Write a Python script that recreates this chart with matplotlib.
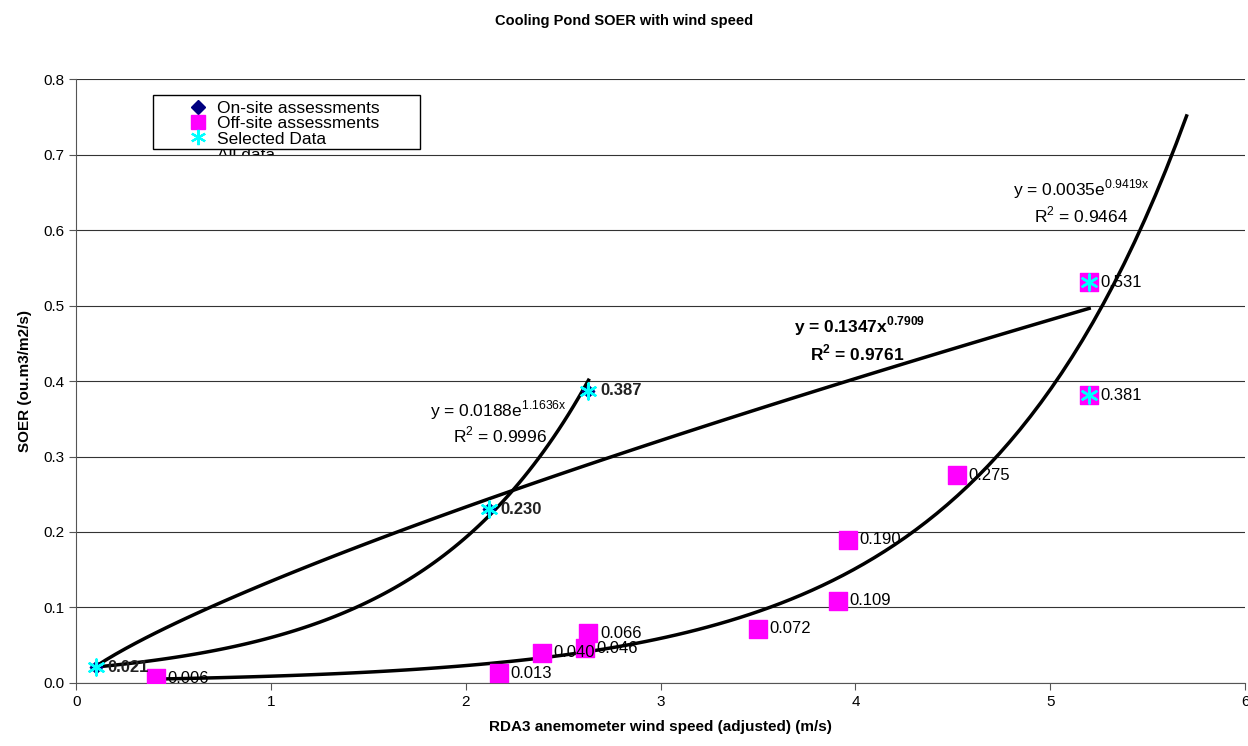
import numpy as np
import matplotlib
matplotlib.use('Agg')
import matplotlib.pyplot as plt
from matplotlib.lines import Line2D
from matplotlib.patches import Rectangle

plt.rcParams['font.family'] = ['Liberation Sans', 'DejaVu Sans']
plt.rcParams['mathtext.fontset'] = 'custom'
plt.rcParams['mathtext.rm'] = 'Liberation Sans'
plt.rcParams['mathtext.bf'] = 'Liberation Sans:bold'

# on-site assessments
on_x = [0.10, 2.12, 2.63]
on_y = [0.021, 0.230, 0.387]

# off-site assessments
off_x = [0.41, 2.17, 2.39, 2.61, 2.63, 3.50, 3.91, 3.96, 4.52, 5.20, 5.20]
off_y = [0.006, 0.013, 0.040, 0.046, 0.066, 0.072, 0.109, 0.190, 0.275, 0.381, 0.531]

# selected data
sel_x = [0.10, 2.12, 2.63, 5.20, 5.20]
sel_y = [0.021, 0.230, 0.387, 0.381, 0.531]

fig = plt.figure(figsize=(12.48, 7.46), dpi=100)
ax = fig.add_axes([0.061, 0.0845, 0.9366, 0.8095])

ax.set_xlim(0, 6)
ax.set_ylim(0, 0.8)
ax.set_yticks(np.arange(0, 0.81, 0.1))
ax.set_yticklabels(['%.1f' % v for v in np.arange(0, 0.81, 0.1)], fontsize=11)
ax.set_xticks(range(7))
ax.set_xticklabels([str(i) for i in range(7)], fontsize=11)
ax.yaxis.grid(True, color='#333333', linewidth=0.8)
ax.set_axisbelow(True)
for s in ['top', 'right']:
    ax.spines[s].set_visible(False)
ax.spines['left'].set_color('#555555')
ax.spines['bottom'].set_color('#555555')
ax.tick_params(direction='out', length=5, color='#555555')

# trendlines
x1 = np.linspace(0.10, 2.63, 100)
ax.plot(x1, 0.0188 * np.exp(1.1636 * x1), color='black', lw=2.5, zorder=2)
x2 = np.linspace(0.10, 5.20, 100)
ax.plot(x2, 0.1347 * x2 ** 0.7909, color='black', lw=2.5, zorder=2)
x3 = np.linspace(0.41, 5.70, 100)
ax.plot(x3, 0.0035 * np.exp(0.9419 * x3), color='black', lw=2.5, zorder=2)

ax.scatter(off_x, off_y, marker='s', s=150, color='magenta', zorder=3)
ax.scatter(on_x, on_y, marker='D', s=40, color='#000080', zorder=4)
ax.scatter(sel_x, sel_y, marker=(6, 2, 0), s=130, color='cyan', linewidths=1.8, zorder=5)

for x, y in zip(off_x, off_y):
    ax.text(x + 0.06, y, '%.3f' % y, fontsize=12, va='center', zorder=6)
for x, y in zip(on_x, on_y):
    ax.text(x + 0.06, y, '%.3f' % y, fontsize=12, va='center', fontweight='bold', color='#222222', zorder=6)

ax.text(2.52, 0.362, r'y = 0.0188e$^{\mathrm{1.1636x}}$', fontsize=12.5, ha='right', va='center')
ax.text(2.42, 0.329, r'R$^{2}$ = 0.9996', fontsize=12.5, ha='right', va='center')
ax.text(4.02, 0.472, r'y = 0.1347x$^{\mathbf{0.7909}}$', fontsize=12.5, ha='center', va='center', fontweight='bold')
ax.text(4.01, 0.437, r'R$^{\mathbf{2}}$ = 0.9761', fontsize=12.5, ha='center', va='center', fontweight='bold')
ax.text(5.16, 0.654, r'y = 0.0035e$^{\mathrm{0.9419x}}$', fontsize=12.5, ha='center', va='center')
ax.text(5.16, 0.620, r'R$^{2}$ = 0.9464', fontsize=12.5, ha='center', va='center')

# legend (box drawn separately, last entry cut off as in the original)
handles = [
    Line2D([], [], ls='none', marker='D', ms=7, color='#000080'),
    Line2D([], [], ls='none', marker='s', ms=10, color='magenta'),
    Line2D([], [], ls='none', marker=(6, 2, 0), ms=11, mew=1.6, color='cyan'),
]
labels = ['On-site assessments', 'Off-site assessments', 'Selected Data']
leg = ax.legend(handles, labels, loc='upper left', bbox_to_anchor=(0.0967, 0.9635),
                fontsize=12.5, frameon=False, labelspacing=0.0, borderpad=0,
                handlelength=1.0, handletextpad=0.61, borderaxespad=0)
box = Rectangle((0.0659, 0.8845), 0.2284, 0.0894, transform=ax.transAxes,
                facecolor='white', edgecolor='black', lw=1.0, zorder=7)
ax.add_patch(box)
leg.set_zorder(8)
clip = Rectangle((0.0659, 0.8745), 0.2284, 0.0100, transform=ax.transAxes,
                 facecolor='none', edgecolor='none')
ax.add_patch(clip)
t = ax.text(0.1209, 0.8855, 'All data', transform=ax.transAxes, fontsize=12.5,
            va='top', ha='left', zorder=8, clip_on=True)
t.set_clip_path(clip)

ax.set_xlabel('RDA3 anemometer wind speed (adjusted) (m/s)', fontsize=11, fontweight='bold', labelpad=8)
ax.set_ylabel('SOER (ou.m3/m2/s)', fontsize=11, fontweight='bold', labelpad=8)
fig.text(0.5, 0.972, 'Cooling Pond SOER with wind speed', ha='center', va='center',
         fontsize=10.5, fontweight='bold')

fig.savefig('out.png', dpi=100)
